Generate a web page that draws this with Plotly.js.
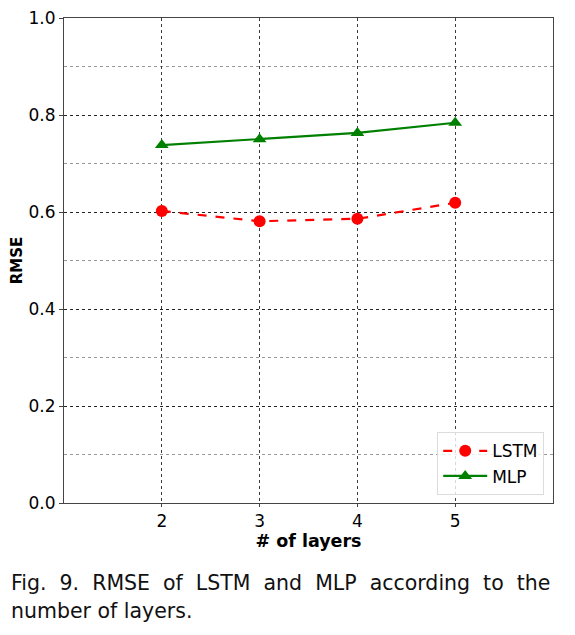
<!DOCTYPE html>
<html>
<head>
<meta charset="utf-8">
<script src="https://cdn.plot.ly/plotly-3.0.1.min.js"></script>
<style>html,body{margin:0;padding:0;background:#fff;}#chart{width:575px;height:635px;}</style>
</head>
<body>
<div id="chart"></div>
<script>
const layers = [2, 3, 4, 5];
const lstmRmse = [0.602, 0.581, 0.586, 0.619];
const mlpRmse = [0.738, 0.750, 0.763, 0.784];
const xTickVals = [2, 3, 4, 5];
const yTickVals = [0.0, 0.2, 0.4, 0.6, 0.8, 1.0];
const captionLine1 = "Fig. 9. RMSE of LSTM and MLP according to the";
const captionLine2 = "number of layers.";

const traces = [
  {
    x: layers, y: lstmRmse, name: "LSTM", type: "scatter", mode: "lines+markers",
    line: {color: "red", width: 2.2, dash: "dash"},
    marker: {symbol: "circle", size: 12, color: "red"}
  },
  {
    x: layers, y: mlpRmse, name: "MLP", type: "scatter", mode: "lines+markers",
    line: {color: "green", width: 2.2},
    marker: {symbol: "triangle-up", size: 12, color: "green"}
  }
];

const tickFont = {family: "DejaVu Sans", size: 17, color: "#000"};
const layout = {
  width: 575, height: 635,
  margin: {l: 64, r: 22, t: 18, b: 132},
  paper_bgcolor: "#fff", plot_bgcolor: "#fff",
  showlegend: true,
  legend: {
    x: 0.982, y: 0.016, xanchor: "right", yanchor: "bottom",
    bgcolor: "rgba(255,255,255,0.8)", bordercolor: "#dcdcdc", borderwidth: 1,
    font: {family: "DejaVu Sans", size: 17, color: "#000"},
    itemwidth: 44,
    tracegroupgap: 4
  },
  xaxis: {
    range: [1, 6], tickvals: xTickVals, ticktext: xTickVals.map(String),
    showline: true, linecolor: "#444", linewidth: 1, mirror: true,
    ticks: "outside", ticklen: 3, tickcolor: "#444",
    showgrid: true, gridcolor: "#3a3a3a", griddash: "dot", gridwidth: 1,
    zeroline: false, tickfont: tickFont,
    title: {text: "<b># of layers</b>", font: {family: "DejaVu Sans", size: 17.5, color: "#000"}, standoff: 0}
  },
  yaxis: {
    range: [0, 1], tickvals: yTickVals, tickformat: ".1f",
    showline: true, linecolor: "#444", linewidth: 1, mirror: true,
    ticks: "outside", ticklen: 4, tickcolor: "#444",
    showgrid: true, gridcolor: "#222", griddash: "dot", gridwidth: 1,
    minor: {dtick: 0.1, showgrid: true, gridcolor: "#999", griddash: "dot", gridwidth: 1, ticks: ""},
    zeroline: false, tickfont: tickFont,
    title: {text: "<b>RMSE</b>", font: {family: "DejaVu Sans", size: 15, color: "#000"}, standoff: 2}
  },
  annotations: [
    {text: captionLine1.split(" ").join(" &nbsp;"), xref: "paper", yref: "paper", x: -0.112, y: -0.165, xanchor: "left", yanchor: "middle",
     showarrow: false, font: {family: "DejaVu Sans", size: 20.5, color: "#111"}},
    {text: captionLine2, xref: "paper", yref: "paper", x: -0.112, y: -0.222, xanchor: "left", yanchor: "middle",
     showarrow: false, font: {family: "DejaVu Sans", size: 20.5, color: "#111"}}
  ]
};

Plotly.newPlot("chart", traces, layout, {displayModeBar: false, staticPlot: true});
</script>
</body>
</html>
